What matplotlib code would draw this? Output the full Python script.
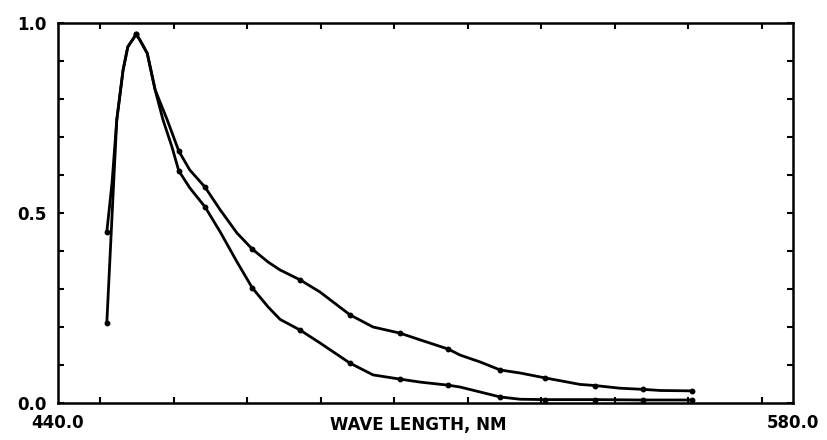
import numpy as np
import matplotlib.pyplot as plt
from matplotlib.ticker import MultipleLocator, FixedLocator

# wave length (nm) and relative intensity
wl_upper = [449.3, 450.3, 451.2, 452.4, 453.3, 454.9, 455.6, 457.0, 458.5, 460.8,
            463.0, 465.1, 468.0, 470.9, 474.1, 477.0, 480.0, 482.3, 486.1, 489.9,
            495.6, 500.0, 505.1, 509.0, 514.3, 516.6, 520.4, 524.2, 528.0, 532.8,
            539.4, 542.3, 547.0, 551.4, 554.7, 560.8]
int_upper = [0.45, 0.58, 0.745, 0.876, 0.937, 0.97, 0.955, 0.92, 0.824, 0.745,
             0.663, 0.613, 0.568, 0.508, 0.447, 0.405, 0.371, 0.35, 0.324, 0.292,
             0.232, 0.20, 0.184, 0.166, 0.142, 0.126, 0.108, 0.087, 0.079, 0.066,
             0.049, 0.046, 0.039, 0.036, 0.033, 0.032]
dots_upper = [0, 5, 10, 12, 15, 18, 20, 22, 24, 27, 29, 31, 33, 35]

wl_lower = [449.3, 450.5, 451.2, 452.4, 453.3, 454.9, 455.6, 457.0, 458.5, 460.0,
            461.7, 463.0, 465.1, 468.0, 470.9, 474.1, 477.0, 480.0, 482.3, 486.1,
            489.9, 495.6, 500.0, 505.1, 509.0, 514.3, 516.6, 520.4, 524.2, 528.0,
            532.8, 542.3, 551.4, 560.8]
int_lower = [0.21, 0.55, 0.745, 0.876, 0.937, 0.97, 0.955, 0.92, 0.824, 0.745,
             0.674, 0.611, 0.566, 0.516, 0.45, 0.371, 0.303, 0.253, 0.22, 0.192,
             0.158, 0.105, 0.074, 0.063, 0.055, 0.047, 0.042, 0.029, 0.016, 0.010,
             0.009, 0.009, 0.008, 0.008]
dots_lower = [0, 5, 11, 13, 16, 19, 21, 23, 25, 28, 30, 31, 32, 33]

x_labels = ["440.0", "580.0"]
y_labels = ["0.0", "0.5", "1.0"]

fig = plt.figure(figsize=(8.28, 4.40), dpi=100)
ax = fig.add_axes([0.070, 0.084, 0.888, 0.864])

for wl, val, dots in [(wl_upper, int_upper, dots_upper), (wl_lower, int_lower, dots_lower)]:
    ax.plot(wl, val, color="black", lw=2.0, marker="o", ms=3.2, markevery=dots,
            solid_joinstyle="round", solid_capstyle="round")

ax.set_xlim(440, 580)
ax.set_ylim(0, 1.0)

ax.xaxis.set_major_locator(FixedLocator([440, 580]))
ax.xaxis.set_minor_locator(MultipleLocator(14))
ax.yaxis.set_major_locator(FixedLocator([0, 0.5, 1.0]))
ax.yaxis.set_minor_locator(MultipleLocator(0.1))
ax.set_xticklabels(x_labels)
ax.set_yticklabels(y_labels)

ax.tick_params(which="both", direction="in", top=True, right=True, length=4, width=1.5)
ax.tick_params(axis="x", which="major", length=0, pad=8)
ax.tick_params(axis="y", which="major", length=4, pad=8)
ax.tick_params(labelsize=12)
for lab in ax.get_xticklabels() + ax.get_yticklabels():
    lab.set_fontweight("bold")

for sp in ax.spines.values():
    sp.set_linewidth(1.8)

ax.set_xlabel("WAVE LENGTH, NM", fontsize=12, fontweight="bold")
ax.xaxis.set_label_coords(0.49, -0.035)

fig.savefig("out.png", dpi=100)
